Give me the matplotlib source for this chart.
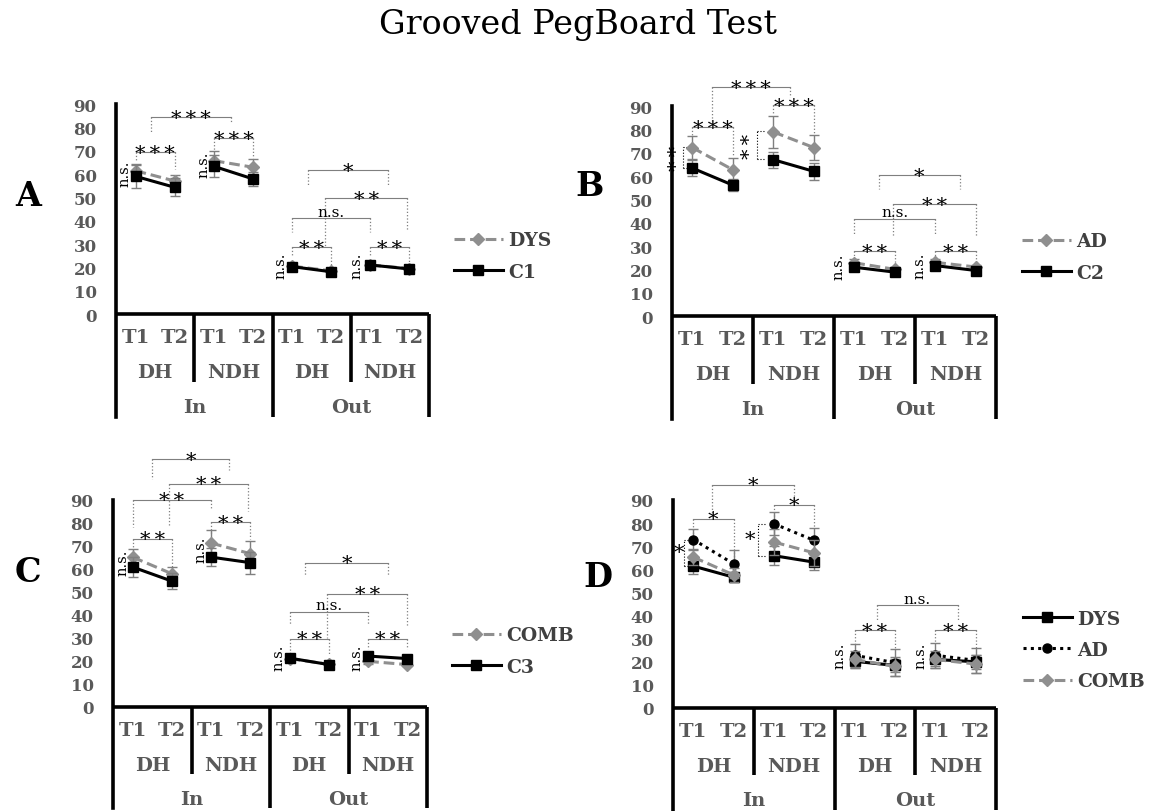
import matplotlib.pyplot as plt

plt.rcParams['font.family'] = ['DejaVu Serif', 'DejaVu Sans']

# categories on the x axis (8 points: T1/T2 x DH/NDH x In/Out)
time_labels = ['T1', 'T2', 'T1', 'T2', 'T1', 'T2', 'T1', 'T2']
hand_labels = ['DH', 'NDH', 'DH', 'NDH']
cond_labels = ['In', 'Out']
x = list(range(8))

# panel A : DYS vs C1
dys_a = [61.4, 57.0, 65.7, 62.9, 20.5, 18.5, 21.0, 19.5]
dys_a_err = [3.0, 2.6, 4.0, 3.5, 1.0, 0.8, 1.0, 0.8]
c1_a = [59.0, 54.3, 63.3, 57.9, 20.3, 18.1, 21.0, 19.3]
c1_a_err = [5.0, 3.9, 4.7, 2.9, 1.0, 0.8, 0.8, 0.8]

# panel B : AD vs C2
ad_b = [72.2, 62.7, 78.9, 72.2, 22.8, 20.0, 23.0, 21.0]
ad_b_err = [5.0, 5.0, 7.0, 5.5, 1.5, 1.0, 1.5, 1.0]
c2_b = [63.4, 56.1, 67.0, 62.0, 20.9, 18.8, 21.6, 19.5]
c2_b_err = [3.5, 2.5, 3.5, 3.5, 1.0, 0.8, 1.0, 0.8]

# panel C : COMB vs C3
comb_c = [65.0, 57.8, 71.1, 66.5, 21.0, 18.5, 19.8, 18.4]
comb_c_err = [3.6, 3.0, 5.5, 5.5, 1.0, 0.8, 1.0, 0.8]
c3_c = [60.7, 54.6, 65.0, 62.6, 21.2, 18.4, 22.1, 21.0]
c3_c_err = [4.3, 3.6, 4.0, 4.8, 1.0, 0.8, 1.0, 1.0]

# panel D : DYS vs AD vs COMB
dys_d = [61.4, 56.6, 65.9, 63.1, 20.2, 18.4, 21.0, 20.0]
dys_d_err = [3.4, 2.0, 4.0, 3.6, 3.0, 3.0, 3.0, 3.0]
ad_d = [72.9, 62.4, 79.7, 72.5, 22.8, 19.6, 22.8, 20.6]
ad_d_err = [4.6, 6.0, 5.0, 5.3, 5.0, 5.8, 5.4, 5.4]
comb_d = [65.3, 57.6, 71.8, 67.1, 21.0, 18.0, 21.0, 19.0]
comb_d_err = [3.6, 3.0, 5.5, 5.5, 3.5, 4.0, 3.5, 4.0]

W, H = 1156, 812
fig = plt.figure(figsize=(W / 100, H / 100), dpi=100)

GRAY = '#8f8f8f'
LABEL = '#595959'
BR = '#7f7f7f'

gray_style = dict(color=GRAY, lw=2.2, ls=(0, (3.5, 1.6)), marker='D', ms=6,
                  mfc=GRAY, mec=GRAY)
black_style = dict(color='black', lw=2.2, ls='-', marker='s', ms=6.5)
dot_style = dict(color='black', lw=2.2, ls=(0, (1, 1.4)), marker='o', ms=6.5)


def make_axes(left, right, top, y0):
    # pixel geometry -> figure fraction, y runs from -44 (bottom) to 90
    scale = (y0 - top) / 90.0
    bottom = y0 + 44 * scale
    ax = fig.add_axes([left / W, 1 - bottom / H, (right - left) / W, (bottom - top) / H])
    ax.set_xlim(-0.5, 7.5)
    ax.set_ylim(-44, 90)
    for s in ['top', 'right', 'bottom']:
        ax.spines[s].set_visible(False)
    ax.spines['left'].set_linewidth(2.6)
    ax.set_xticks([])
    ax.set_yticks(range(0, 91, 10))
    ax.tick_params(axis='y', length=0, pad=14, labelsize=12, labelcolor=LABEL)
    for t in ax.get_yticklabels():
        t.set_fontweight('bold')
    ax.patch.set_alpha(0)

    # category box
    kw = dict(color='black', lw=2.6, clip_on=False, solid_capstyle='butt')
    ax.plot([-0.5, 7.5], [0, 0], **kw)
    ax.plot([7.5, 7.5], [0, -44], **kw)
    ax.plot([3.5, 3.5], [0, -44], **kw)
    ax.plot([1.5, 1.5], [0, -29], **kw)
    ax.plot([5.5, 5.5], [0, -29], **kw)
    tkw = dict(ha='center', va='center', fontsize=14, fontweight='bold', color=LABEL)
    for i, lab in enumerate(time_labels):
        ax.text(i, -10, lab, **tkw)
    for i, lab in enumerate(hand_labels):
        ax.text(2 * i + 0.5, -25, lab, **tkw)
    for i, lab in enumerate(cond_labels):
        ax.text(4 * i + 1.5, -40, lab, **tkw)
    return ax


def draw_series(ax, vals, errs, style, z):
    ax.errorbar(x, vals, yerr=errs, fmt='none', ecolor=BR, elinewidth=1,
                capsize=3.5, capthick=1, zorder=z)
    line = None
    for g in range(4):
        ln, = ax.plot(x[2 * g:2 * g + 2], vals[2 * g:2 * g + 2], zorder=z + 0.5, **style)
        if line is None:
            line = ln
    return line


def stars(n):
    return '\u2009'.join('*' * n)


def bracket(ax, x1, x2, y, b1, b2, label):
    ax.plot([x1, x2], [y, y], color=BR, lw=0.8, clip_on=False)
    ax.plot([x1, x1], [y, b1], color=BR, lw=0.9, ls=':', clip_on=False)
    ax.plot([x2, x2], [y, b2], color=BR, lw=0.9, ls=':', clip_on=False)
    if label == 'n.s.':
        ax.text((x1 + x2) / 2, y + 1.2, label, ha='center', va='baseline', fontsize=11)
    else:
        ax.text((x1 + x2) / 2, y - 2.8, stars(label), ha='center', va='baseline', fontsize=15)


def vbracket(ax, xv, y1, y2, xl, label):
    ax.plot([xv, xv], [y1, y2], color='black', lw=0.8, ls=':', clip_on=False)
    ax.plot([xv, xv + 0.2], [y1, y1], color='black', lw=0.8, ls=':', clip_on=False)
    ax.plot([xv, xv + 0.2], [y2, y2], color='black', lw=0.8, ls=':', clip_on=False)
    rot = 90 if label > 1 else 0
    ax.text(xl, (y1 + y2) / 2, stars(label), ha='center', va='center',
            rotation=rot, fontsize=15)


def ns_rot(ax, xv, y):
    ax.text(xv, y, 'n.s.', rotation=90, ha='center', va='center', fontsize=10.5)


def add_legend(ax, handles, labels, xl, yc):
    ax.legend(handles, labels, loc='center left', bbox_to_anchor=(xl / W, 1 - yc / H),
              bbox_transform=fig.transFigure, frameon=False, borderpad=0,
              borderaxespad=0, handlelength=2.6, handletextpad=0.3,
              labelspacing=0.7, prop={'weight': 'bold', 'size': 13.5},
              labelcolor='#404040')


# ---- panel A
ax = make_axes(116, 429, 105, 315)
h1 = draw_series(ax, dys_a, dys_a_err, gray_style, 3)
h2 = draw_series(ax, c1_a, c1_a_err, black_style, 4)
bracket(ax, 0, 1, 69.3, 66, 62, 3)
bracket(ax, 2, 3, 75.3, 70, 67, 3)
bracket(ax, 0.4, 2.45, 84.3, 78, 82, 3)
bracket(ax, 4, 5, 28.6, 25, 21, 2)
bracket(ax, 6, 7, 28.6, 25, 21.5, 2)
bracket(ax, 4, 6, 41, 35, 35, 'n.s.')
bracket(ax, 4.85, 6.95, 49.6, 28.6, 35.7, 2)
bracket(ax, 4.4, 6.45, 61.7, 55, 55, 1)
ns_rot(ax, -0.27, 60.7)
ns_rot(ax, 1.73, 64.5)
ns_rot(ax, 3.7, 21)
ns_rot(ax, 5.65, 21)
add_legend(ax, [h1, h2], ['DYS', 'C1'], 454, 257)

# ---- panel B
ax = make_axes(672, 996, 107, 317)
h1 = draw_series(ax, ad_b, ad_b_err, gray_style, 3)
h2 = draw_series(ax, c2_b, c2_b_err, black_style, 4)
bracket(ax, 0, 1, 81, 77.5, 68.5, 3)
bracket(ax, 2, 3, 90.3, 87, 78.5, 3)
bracket(ax, 0.49, 2.41, 98, 83.6, 94, 3)
bracket(ax, 4, 5, 27.8, 24, 21.5, 2)
bracket(ax, 6, 7, 27.8, 24.5, 22, 2)
bracket(ax, 4, 6, 41.6, 35, 35, 'n.s.')
bracket(ax, 4.95, 7, 48, 33.8, 34.5, 2)
bracket(ax, 4.6, 6.6, 60.4, 54.4, 54.4, 1)
vbracket(ax, -0.23, 63.4, 72.6, -0.36, 2)
vbracket(ax, 1.6, 67.2, 79.3, 1.43, 2)
ns_rot(ax, 3.6, 21.6)
ns_rot(ax, 5.6, 22)
add_legend(ax, [h1, h2], ['AD', 'C2'], 1022, 258)

# ---- panel C
ax = make_axes(113, 427, 500.5, 708)
h1 = draw_series(ax, comb_c, comb_c_err, gray_style, 3)
h2 = draw_series(ax, c3_c, c3_c_err, black_style, 4)
bracket(ax, 0, 1, 73, 68, 58.5, 2)
bracket(ax, 2, 3, 80.2, 75, 73, 2)
bracket(ax, 0, 2, 90, 78, 86, 2)
bracket(ax, 0.93, 2.93, 96.8, 78, 85, 2)
bracket(ax, 0.5, 2.45, 107.4, 99, 103, 1)
bracket(ax, 4, 5, 29.6, 22.5, 22.5, 2)
bracket(ax, 6, 7, 29.6, 25, 25, 2)
bracket(ax, 4, 6, 41.2, 35.4, 35.4, 'n.s.')
bracket(ax, 4.95, 7, 49, 30, 35, 2)
bracket(ax, 4.4, 6.5, 62.6, 57, 57, 1)
ns_rot(ax, -0.25, 63)
ns_rot(ax, 1.73, 68.6)
ns_rot(ax, 3.72, 21.7)
ns_rot(ax, 5.7, 21.7)
add_legend(ax, [h1, h2], ['COMB', 'C3'], 452, 652)

# ---- panel D
ax = make_axes(673, 996, 501, 709)
h1 = draw_series(ax, dys_d, dys_d_err, black_style, 3)
h2 = draw_series(ax, ad_d, ad_d_err, dot_style, 4)
h3 = draw_series(ax, comb_d, comb_d_err, gray_style, 5)
vbracket(ax, -0.23, 61.4, 72.9, -0.36, 1)
vbracket(ax, 1.6, 65.9, 79.7, 1.41, 1)
bracket(ax, 0, 1, 81.8, 74, 64.6, 1)
bracket(ax, 2, 3, 88, 81, 78.4, 1)
bracket(ax, 0.47, 2.5, 96.5, 82.9, 89, 1)
bracket(ax, 4, 5, 33.6, 27, 25, 2)
bracket(ax, 6, 7, 33.6, 28, 26, 2)
bracket(ax, 4.55, 6.55, 44.4, 37.9, 37.9, 'n.s.')
ns_rot(ax, 3.62, 22.8)
ns_rot(ax, 5.63, 22.8)
add_legend(ax, [h1, h2, h3], ['DYS', 'AD', 'COMB'], 1023, 651)

# panel letters and title
for lab, px, py in [('A', 28, 197), ('B', 590, 187), ('C', 28, 573), ('D', 598, 578)]:
    fig.text(px / W, 1 - py / H, lab, ha='center', va='center', fontsize=24,
             fontweight='bold')
fig.text(0.5, 1 - 25 / H, 'Grooved PegBoard Test', ha='center', va='center', fontsize=24)

fig.savefig('out.png', dpi=100)
